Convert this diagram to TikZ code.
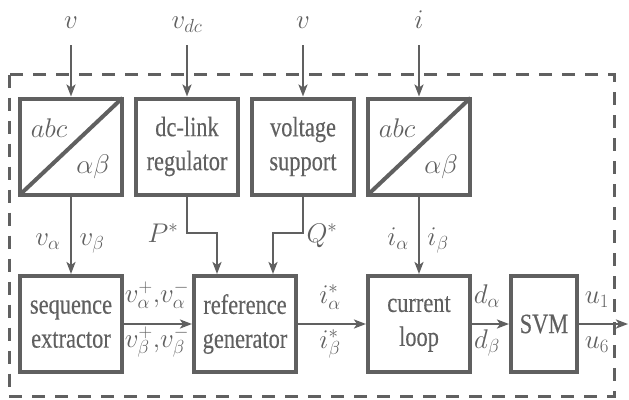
\RequirePackage{fix-cm}
\documentclass[tikz,border=0pt]{standalone}
\usepackage{fontspec}
\setmainfont{Liberation Serif}[FakeStretch=0.8, FakeBold=0.3]
\usetikzlibrary{arrows.meta}
\definecolor{dg}{HTML}{606060}
\begin{document}
\begin{tikzpicture}[x=1pt,y=-1pt,
  every node/.style={text=dg},
  blk/.style={draw=dg, line width=4pt, minimum width=102pt, minimum height=96pt,
    inner sep=0pt, align=center, font=\fontsize{28}{34}\selectfont},
  lbl/.style={font=\fontsize{27}{30}\selectfont, inner sep=0pt, anchor=base},
  arr/.style={draw=dg, line width=2.8pt, -{Stealth[length=12pt,width=9pt,inset=3pt]}},
  conn/.style={draw=dg, line width=4pt, shorten <=2pt, shorten >=2pt},
  frame/.style={draw=dg, line width=3pt, dash pattern=on 13pt off 10pt}
]
\useasboundingbox (0,0) rectangle (629,399);
% dashed frame
\draw[frame] (9,74.5) rectangle (614,396.5);

% top row
\node[blk] (t1) at (71,146.5) {};
\draw[conn] (t1.south west) -- (t1.north east);
\node[lbl] (t1a) at (49,137) {$abc$};
\node[lbl] (t1b) at (93,173) {$\alpha\beta$};
\node[blk] (t2) at (187,146.5) {dc-link\\regulator};
\node[blk] (t3) at (303,146.5) {voltage\\support};
\node[blk] (t4) at (419,146.5) {};
\draw[conn] (t4.south west) -- (t4.north east);
\node[lbl] (t4a) at (397,137) {$abc$};
\node[lbl] (t4b) at (441,173) {$\alpha\beta$};

% bottom row
\node[blk] (b1) at (71,324) {sequence\\extractor};
\node[blk] (b2) at (245,324) {reference\\generator};
\node[blk] (b3) at (419,324) {current\\loop};
\node[blk, minimum width=66pt] (b4) at (544,324) {SVM};

% inputs
\node[lbl] (in1) at (71,28) {$v$};
\node[lbl] (in2) at (187,28) {$v_{dc}$};
\node[lbl] (in3) at (303,28) {$v$};
\node[lbl] (in4) at (419,28) {$i$};
\coordinate (s1) at (71,45);
\coordinate (s2) at (187,45);
\coordinate (s3) at (303,45);
\coordinate (s4) at (419,45);
\draw[arr] (s1) -- (t1.north);
\draw[arr] (s2) -- (t2.north);
\draw[arr] (s3) -- (t3.north);
\draw[arr] (s4) -- (t4.north);

% vertical connections
\draw[arr] (t1) -- (b1);
\draw[arr] (t4) -- (b3);
\coordinate (p1) at (217,233);
\coordinate (q1) at (273,233);
\draw[arr] (t2.south) |- (p1) -- (b2.north -| p1);
\draw[arr] (t3.south) |- (q1) -- (b2.north -| q1);

% horizontal connections
\coordinate (out) at (628,324);
\draw[arr] (b1) -- (b2);
\draw[arr] (b2) -- (b3);
\draw[arr] (b3) -- (b4);
\draw[arr] (b4) -- (out);

% labels
\node[lbl] (lP) at (163,242) {$P^*$};
\node[lbl] (lQ) at (322,242) {$Q^*$};
\node[lbl] (lva) at (48,245) {$v_\alpha$};
\node[lbl] (lvb) at (92,245) {$v_\beta$};
\node[lbl] (lia) at (398,245) {$i_\alpha$};
\node[lbl] (lib) at (438,245) {$i_\beta$};
\node[lbl] (lvpa) at (157,302) {$v_\alpha^+{,}v_\alpha^-$};
\node[lbl] (lvpb) at (157,347) {$v_\beta^+{,}v_\beta^-$};
\node[lbl] (lisa) at (330,303) {$i_\alpha^*$};
\node[lbl] (lisb) at (330,348) {$i_\beta^*$};
\node[lbl] (lda) at (487,303) {$d_\alpha$};
\node[lbl] (ldb) at (487,348) {$d_\beta$};
\node[lbl] (lu1) at (597,303) {$u_1$};
\node[lbl] (lu6) at (597,348) {$u_6$};
\end{tikzpicture}
\end{document}
